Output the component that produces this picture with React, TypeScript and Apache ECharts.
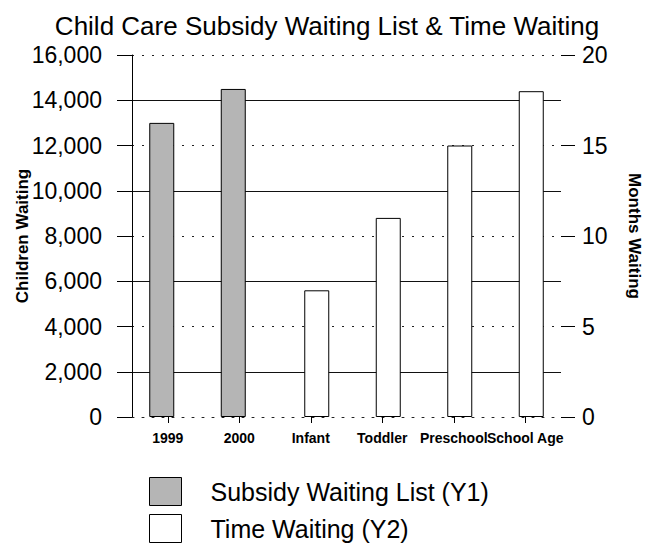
import React, { useEffect, useRef } from "react";
import * as echarts from "echarts";

const categories = ["1999", "2000", "Infant", "Toddler", "Preschool", "School Age"];
const subsidyWaitingList = [13000, 14500, null, null, null, null];
const timeWaiting = [null, null, 7, 11, 15, 18];
const leftAxis = { min: 0, max: 16000, interval: 2000 };
const rightAxis = { min: 0, max: 20, interval: 5 };
const seriesNames = ["Subsidy Waiting List (Y1)", "Time Waiting (Y2)"];
const titleText = "Child Care Subsidy Waiting List & Time Waiting";

const FONT = "Liberation Sans, Arial, sans-serif";

export default function App() {
  const ref = useRef<HTMLDivElement>(null);
  useEffect(() => {
    if (!ref.current) return;
    const chart = echarts.init(ref.current, null, { renderer: "svg" });
    const dotted = { color: "#222", width: 1, type: [2, 8] as any };
    chart.setOption({
      animation: false,
      backgroundColor: "#fff",
      textStyle: { fontFamily: FONT, color: "#000" },
      title: {
        text: titleText,
        left: "center",
        top: 8,
        textStyle: { fontFamily: FONT, fontSize: 26, fontWeight: "normal", color: "#000" },
      },
      grid: { left: 132, right: 93, top: 55, bottom: 126, containLabel: false },
      legend: {
        orient: "vertical",
        left: 149,
        top: 477,
        height: 66,
        padding: 0,
        itemWidth: 32,
        itemHeight: 28,
        itemGap: 8,
        icon: "rect",
        textStyle: { fontFamily: FONT, fontSize: 25, color: "#000", padding: [0, 0, 0, 24] },
        data: [
          { name: seriesNames[0], itemStyle: { color: "#b5b5b5", borderColor: "#000", borderWidth: 1 } },
          { name: seriesNames[1], itemStyle: { color: "#fff", borderColor: "#000", borderWidth: 1 } },
        ],
      },
      xAxis: {
        type: "category",
        data: categories,
        axisLine: { show: true, lineStyle: dotted },
        axisTick: { show: true, alignWithLabel: true, length: 6, lineStyle: { color: "#000", width: 1 } },
        axisLabel: { interval: 0, margin: 14, fontFamily: FONT, fontSize: 14, fontWeight: "bold", color: "#000" },
        splitLine: { show: false },
      },
      yAxis: [
        {
          type: "value",
          min: leftAxis.min,
          max: leftAxis.max,
          interval: leftAxis.interval,
          position: "left",
          name: "Children Waiting",
          nameLocation: "middle",
          nameGap: 101,
          nameMoveOverlap: false,
          nameTextStyle: { fontFamily: FONT, fontSize: 17, fontWeight: "bold", color: "#000" },
          axisLine: { show: true, lineStyle: { color: "#000", width: 1 } },
          axisTick: { show: true, length: 15, lineStyle: { color: "#000", width: 1 } },
          axisLabel: {
            margin: 30,
            fontFamily: FONT,
            fontSize: 23,
            color: "#000",
            formatter: (v: number) => v.toLocaleString("en-US"),
          },
          splitLine: { show: true, lineStyle: { color: ["transparent", "#111"], width: 1, type: "solid" } },
        },
        {
          type: "value",
          min: rightAxis.min,
          max: rightAxis.max,
          interval: rightAxis.interval,
          position: "right",
          name: "Months Waiting",
          nameLocation: "middle",
          nameGap: 65,
          nameMoveOverlap: false,
          nameRotate: -90,
          nameTextStyle: { fontFamily: FONT, fontSize: 17, fontWeight: "bold", color: "#000" },
          axisLine: { show: false },
          axisTick: { show: true, length: 14, lineStyle: { color: "#000", width: 1 } },
          axisLabel: { margin: 21, fontFamily: FONT, fontSize: 23, color: "#000" },
          splitLine: { show: true, lineStyle: dotted },
        },
      ],
      series: [
        {
          name: seriesNames[0],
          type: "bar",
          yAxisIndex: 0,
          data: subsidyWaitingList,
          barWidth: 25,
          barGap: "-52%",
          itemStyle: { color: "#b5b5b5", borderColor: "#000", borderWidth: 1 },
        },
        {
          name: seriesNames[1],
          type: "bar",
          yAxisIndex: 1,
          data: timeWaiting,
          barWidth: 25,
          barGap: "-52%",
          itemStyle: { color: "#fff", borderColor: "#000", borderWidth: 1 },
        },
      ],
    });
    return () => chart.dispose();
  }, []);
  return (
    <div
      ref={ref}
      style={{ position: "fixed", left: 0, top: 0, width: 654, height: 543, background: "#fff" }}
    />
  );
}
